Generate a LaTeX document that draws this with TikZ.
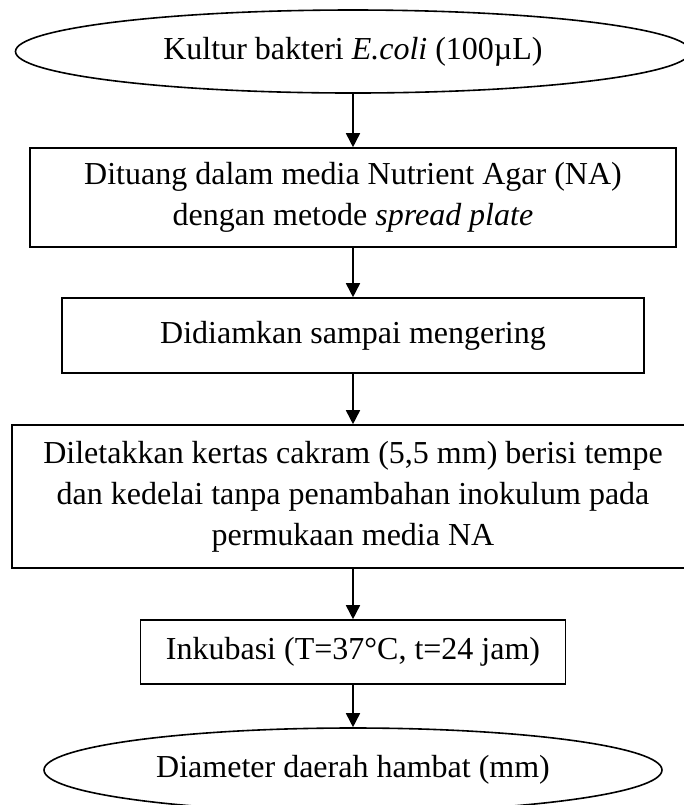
\documentclass[tikz,border=0pt]{standalone}
\usepackage{fontspec}
\setmainfont{Liberation Serif}
\usetikzlibrary{arrows,arrows.meta,automata,positioning,shapes}

\begin{document}
\begin{tikzpicture}[->,>={Triangle[length=7pt,width=7pt]},auto,thick]
\tikzstyle{every state}=[shape=rectangle,draw,thick,text=black,align=center,inner sep=0pt,font=\fontsize{16pt}{20.5pt}\selectfont]

\useasboundingbox (0,0) rectangle (342pt,-402.5pt);

\node[state]		(A) at (176.5pt,-25.75pt) [shape=ellipse,minimum width=337.5pt,minimum height=41.5pt] {Kultur bakteri \textit{E.coli} (100µL)};
\node[state]		(B) [below of=A,node distance=73pt,minimum width=323pt,minimum height=49.5pt] {Dituang dalam media Nutrient Agar (NA)\\dengan metode \textit{spread plate}};
\node[state]		(C) [below of=B,node distance=69pt,minimum width=291pt,minimum height=37.5pt] {Didiamkan sampai mengering};
\node[state]		(D) [below of=C,node distance=80.5pt,minimum width=341pt,minimum height=71.5pt] {Diletakkan kertas cakram (5,5 mm) berisi tempe\\dan kedelai tanpa penambahan inokulum pada\\permukaan media NA};
\node[state]		(E) [below of=D,node distance=77.75pt,minimum width=212.5pt,minimum height=32pt] {Inkubasi (T=37°C, t=24 jam)};
\node[state]		(F) [below of=E,node distance=59pt,shape=ellipse,minimum width=309pt,minimum height=42pt] {Diameter daerah hambat (mm)};

\path
(A) edge (B)
(B) edge (C)
(C) edge (D)
(D) edge (E)
(E) edge (F);
\end{tikzpicture}
\end{document}
